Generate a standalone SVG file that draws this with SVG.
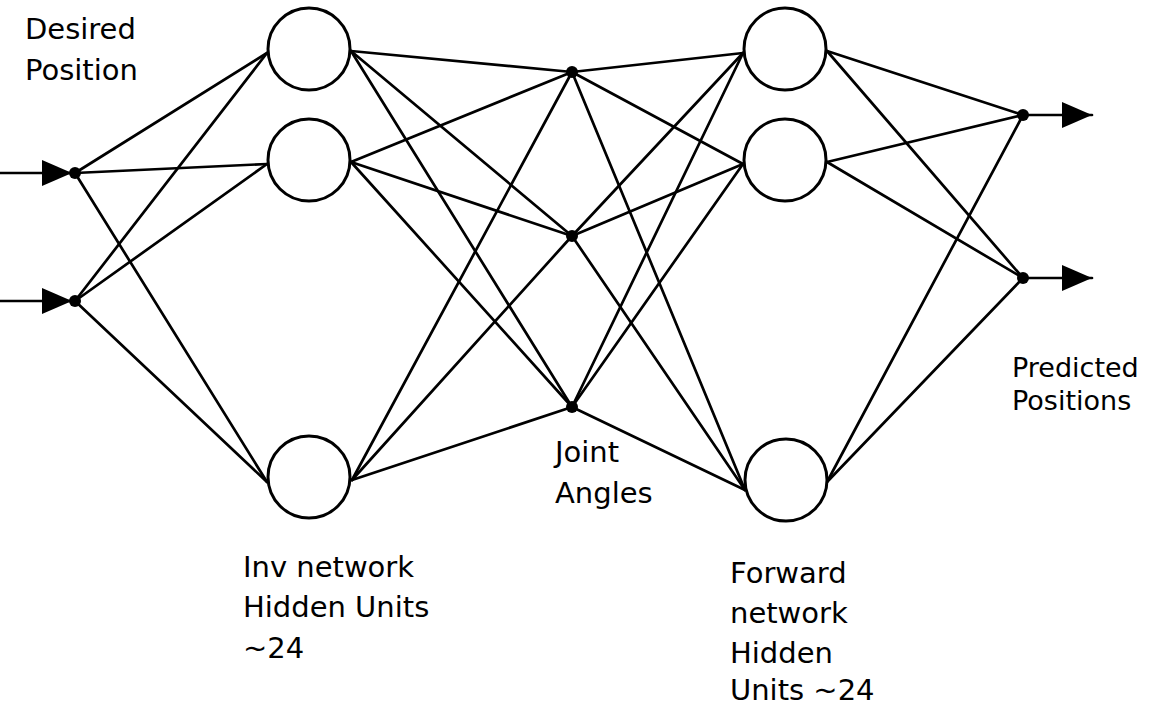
<svg xmlns="http://www.w3.org/2000/svg" width="1154" height="708" viewBox="0 0 1154 708">
  <style>
    .unit { fill: #fff; stroke: #000; stroke-width: 3; }
    .dot { fill: #000; }
    .wire { stroke: #000; stroke-width: 2.7; fill: none; stroke-linecap: round; }
    .label { font-family: "DejaVu Sans", "Liberation Sans", sans-serif; font-size: 29px; fill: #000; }
    .small { font-size: 27px; }
  </style>
  <defs>
    <marker id="arrow" markerUnits="userSpaceOnUse" markerWidth="30" markerHeight="26" refX="30" refY="13" orient="auto">
      <path d="M0,0 L30,13 L0,26 Z" fill="#000"/>
    </marker>
  </defs>

  <!-- connections -->
  <g id="connectors" class="wire">
    <!-- input arrows -->
    <line x1="0" y1="173" x2="72" y2="173" marker-end="url(#arrow)"/>
    <line x1="0" y1="301" x2="72" y2="301" marker-end="url(#arrow)"/>
    <!-- inputs to inverse hidden units -->
    <line x1="75" y1="173" x2="267" y2="53"/>
    <line x1="75" y1="173" x2="267" y2="164"/>
    <line x1="75" y1="173" x2="267" y2="482"/>
    <line x1="75" y1="301" x2="267" y2="53"/>
    <line x1="75" y1="301" x2="267" y2="164"/>
    <line x1="75" y1="301" x2="267" y2="482"/>
    <!-- inverse hidden units to joint angles -->
    <line x1="351" y1="51" x2="572" y2="72"/>
    <line x1="351" y1="51" x2="572" y2="236"/>
    <line x1="351" y1="51" x2="572" y2="407"/>
    <line x1="351" y1="162" x2="572" y2="72"/>
    <line x1="351" y1="162" x2="572" y2="236"/>
    <line x1="351" y1="162" x2="572" y2="407"/>
    <line x1="352" y1="480" x2="572" y2="72"/>
    <line x1="352" y1="480" x2="572" y2="236"/>
    <line x1="352" y1="480" x2="572" y2="407"/>
    <!-- joint angles to forward hidden units -->
    <line x1="572" y1="72" x2="743" y2="53"/>
    <line x1="572" y1="72" x2="743" y2="164"/>
    <line x1="572" y1="72" x2="745" y2="490"/>
    <line x1="572" y1="236" x2="743" y2="53"/>
    <line x1="572" y1="236" x2="743" y2="164"/>
    <line x1="572" y1="236" x2="745" y2="490"/>
    <line x1="572" y1="407" x2="743" y2="53"/>
    <line x1="572" y1="407" x2="743" y2="164"/>
    <line x1="572" y1="407" x2="745" y2="490"/>
    <!-- forward hidden units to predicted positions -->
    <line x1="827" y1="51" x2="1023" y2="115"/>
    <line x1="827" y1="51" x2="1023" y2="278"/>
    <line x1="827" y1="162" x2="1023" y2="115"/>
    <line x1="827" y1="162" x2="1023" y2="278"/>
    <line x1="827" y1="482" x2="1023" y2="115"/>
    <line x1="827" y1="482" x2="1023" y2="278"/>
    <!-- output arrows -->
    <line x1="1023" y1="115" x2="1092" y2="115" marker-end="url(#arrow)"/>
    <line x1="1023" y1="278" x2="1092" y2="278" marker-end="url(#arrow)"/>
  </g>

  <!-- input points -->
  <g id="in1"><circle class="dot" cx="75" cy="173" r="6"/></g>
  <g id="in2"><circle class="dot" cx="75" cy="301" r="6"/></g>

  <!-- inverse network hidden units -->
  <g id="inv1"><circle class="unit" cx="309" cy="49" r="41"/></g>
  <g id="inv2"><circle class="unit" cx="309" cy="160" r="41"/></g>
  <g id="inv3"><circle class="unit" cx="309" cy="477" r="41"/></g>

  <!-- joint angles -->
  <g id="joint1"><circle class="dot" cx="572" cy="72" r="6"/></g>
  <g id="joint2"><circle class="dot" cx="572" cy="236" r="6"/></g>
  <g id="joint3"><circle class="dot" cx="572" cy="407" r="6"/></g>

  <!-- forward network hidden units -->
  <g id="fwd1"><circle class="unit" cx="785" cy="49" r="41"/></g>
  <g id="fwd2"><circle class="unit" cx="785" cy="160" r="41"/></g>
  <g id="fwd3"><circle class="unit" cx="786" cy="480" r="41"/></g>

  <!-- predicted positions -->
  <g id="out1"><circle class="dot" cx="1023" cy="115" r="6"/></g>
  <g id="out2"><circle class="dot" cx="1023" cy="278" r="6"/></g>

  <!-- labels -->
  <g id="labels" class="label">
    <text x="25" y="39">Desired</text>
    <text x="25" y="80">Position</text>
    <text x="243" y="577">Inv network</text>
    <text x="243" y="617">Hidden Units</text>
    <text x="243" y="658">~24</text>
    <text x="555" y="462">Joint</text>
    <text x="555" y="503">Angles</text>
    <text x="730" y="583">Forward</text>
    <text x="730" y="623">network</text>
    <text x="730" y="663">Hidden</text>
    <text x="730" y="700">Units ~24</text>
    <text class="small" x="1012" y="377">Predicted</text>
    <text class="small" x="1012" y="410">Positions</text>
  </g>
</svg>
